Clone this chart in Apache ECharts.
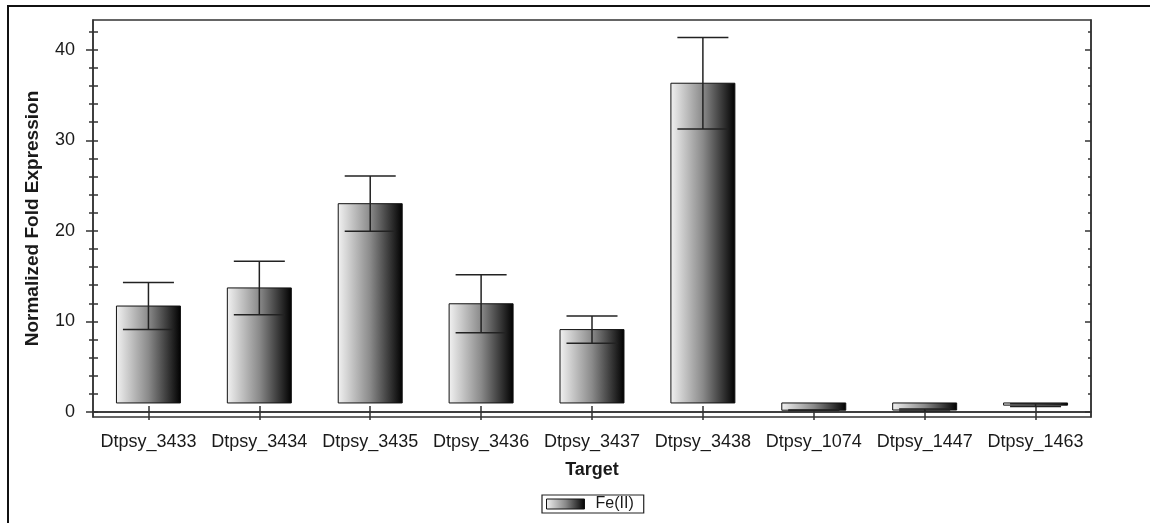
<!DOCTYPE html>
<html>
<head>
<meta charset="utf-8">
<script src="https://cdn.jsdelivr.net/npm/echarts@6/dist/echarts.min.js"></script>
<style>
html,body{margin:0;padding:0;background:#fff;}
#chart{width:1150px;height:523px;}
</style>
</head>
<body>
<div id="chart"></div>
<script>
const categories = ['Dtpsy_3433','Dtpsy_3434','Dtpsy_3435','Dtpsy_3436','Dtpsy_3437','Dtpsy_3438','Dtpsy_1074','Dtpsy_1447','Dtpsy_1463'];
const values = [11.7, 13.7, 23.0, 11.95, 9.1, 36.3, 0.2, 0.22, 0.76];
const errors = [2.6, 2.95, 3.05, 3.2, 1.5, 5.05, 0.02, 0.1, 0.15];
const baseline = 1;
const yMajorTicks = [0, 10, 20, 30, 40];
const yMinorTicks = [2, 4, 6, 8, 12, 14, 16, 18, 22, 24, 26, 28, 32, 34, 36, 38, 42];
const yAllTicks = yMajorTicks.concat(yMinorTicks);
const seriesName = 'Fe(II)';
const yMin = -0.55, yMax = 43.28;

const font = '"Liberation Sans", Arial, sans-serif';
const txt = '#1a1a1a';
const axisCol = '#333';

function grad() {
  return new echarts.graphic.LinearGradient(0, 0, 1, 0, [
    {offset: 0, color: '#f2f2f2'},
    {offset: 0.5, color: '#8a8a8a'},
    {offset: 1, color: '#000000'}
  ]);
}

const chart = echarts.init(document.getElementById('chart'), null, {renderer: 'canvas'});

function yAx(opts) {
  return Object.assign({
    type: 'value', min: yMin, max: yMax, position: 'left',
    splitLine: {show: false},
    axisLine: {show: false},
    axisLabel: {show: false},
    axisTick: {show: false}
  }, opts);
}

const option = {
  animation: false,
  backgroundColor: '#fff',
  graphic: [{
    type: 'rect', z: 100, silent: true,
    shape: {x: 8, y: 6, width: 1300, height: 700},
    style: {fill: 'none', stroke: '#111', lineWidth: 2}
  }],
  grid: {left: 93, right: 59, top: 20, bottom: 106, show: true, borderColor: axisCol, borderWidth: 1.5},
  legend: {
    left: 542, top: 495,
    data: [seriesName],
    itemWidth: 38, itemHeight: 10, itemGap: 5,
    padding: [1, 10, 1, 4],
    borderColor: '#222', borderWidth: 1.2,
    textStyle: {fontFamily: font, fontSize: 16, color: txt, lineHeight: 16, padding: [0, 0, 0, 6]},
    icon: 'rect',
    itemStyle: {color: grad(), borderColor: '#111', borderWidth: 1}
  },
  xAxis: [
    {
      type: 'category', data: categories, position: 'bottom', gridIndex: 0,
      name: 'Target', nameLocation: 'middle', nameGap: 44,
      nameTextStyle: {fontFamily: font, fontSize: 18, fontWeight: 'bold', color: txt},
      axisLine: {show: true, lineStyle: {color: axisCol, width: 1.5}},
      axisTick: {show: true, alignWithLabel: true, interval: 0, length: 8, lineStyle: {color: axisCol, width: 1.5}},
      axisLabel: {fontFamily: font, fontSize: 18, color: txt, margin: 16, interval: 0}
    },
    {
      type: 'category', data: categories, position: 'bottom',
      axisLine: {show: false},
      axisTick: {show: true, inside: true, alignWithLabel: true, interval: 0, length: 6, lineStyle: {color: axisCol, width: 1.5}},
      axisLabel: {show: false}
    },
    {
      type: 'category', data: categories, position: 'top',
      axisLine: {show: true, lineStyle: {color: axisCol, width: 1.5}},
      axisTick: {show: true, inside: true, alignWithLabel: true, interval: 0, length: 6, lineStyle: {color: axisCol, width: 1.5}},
      axisLabel: {show: false}
    }
  ],
  yAxis: [
    yAx({
      name: 'Normalized Fold Expression', nameLocation: 'middle', nameGap: 51,
      nameTextStyle: {fontFamily: font, fontSize: 19, fontWeight: 'bold', color: txt},
      axisLine: {show: true, lineStyle: {color: axisCol, width: 1.5}},
      axisLabel: {show: true, customValues: yMajorTicks, fontFamily: font, fontSize: 18, color: txt, margin: 18},
      axisTick: {show: true, customValues: yMajorTicks, length: 7, lineStyle: {color: axisCol, width: 1.5}}
    }),
    yAx({axisTick: {show: true, customValues: yMinorTicks, length: 4, lineStyle: {color: axisCol, width: 1.5}}}),
    yAx({axisTick: {show: true, inside: true, customValues: yAllTicks, length: 5, lineStyle: {color: axisCol, width: 1.5}}}),
    yAx({position: 'right',
      axisLine: {show: true, lineStyle: {color: axisCol, width: 1.5}},
      axisTick: {show: true, inside: true, customValues: yMajorTicks, length: 6, lineStyle: {color: axisCol, width: 1.5}}}),
    yAx({position: 'right',
      axisTick: {show: true, inside: true, customValues: yMinorTicks, length: 3, lineStyle: {color: axisCol, width: 1.5}}})
  ],
  series: [{
    name: seriesName,
    type: 'custom',
    xAxisIndex: 0, yAxisIndex: 0,
    itemStyle: {color: grad(), borderColor: '#111', borderWidth: 1},
    encode: {x: 0, y: 1},
    data: values.map((v, i) => [i, v, errors[i]]),
    renderItem: function (params, api) {
      const i = api.value(0), v = api.value(1), e = api.value(2);
      const b = api.coord([i, baseline]);
      const t = api.coord([i, v]);
      const band = api.size([1, 0])[0];
      const w = band * 0.577;
      const cw = band * 0.46;
      const x = b[0];
      const hi = api.coord([i, v + e]);
      const lo = api.coord([i, v - e]);
      const y0 = Math.min(b[1], t[1]);
      const h = Math.abs(b[1] - t[1]);
      const ls = {stroke: '#222', lineWidth: 1.5};
      return {
        type: 'group',
        children: [
          {type: 'rect', shape: {x: x - w / 2, y: y0, width: w, height: h},
            style: {fill: grad(), stroke: '#111', lineWidth: 1}},
          {type: 'line', shape: {x1: x, y1: hi[1], x2: x, y2: lo[1]}, style: ls},
          {type: 'line', shape: {x1: x - cw / 2, y1: hi[1], x2: x + cw / 2, y2: hi[1]}, style: ls},
          {type: 'line', shape: {x1: x - cw / 2, y1: lo[1], x2: x + cw / 2, y2: lo[1]}, style: ls}
        ]
      };
    }
  }]
};
chart.setOption(option);
</script>
</body>
</html>
